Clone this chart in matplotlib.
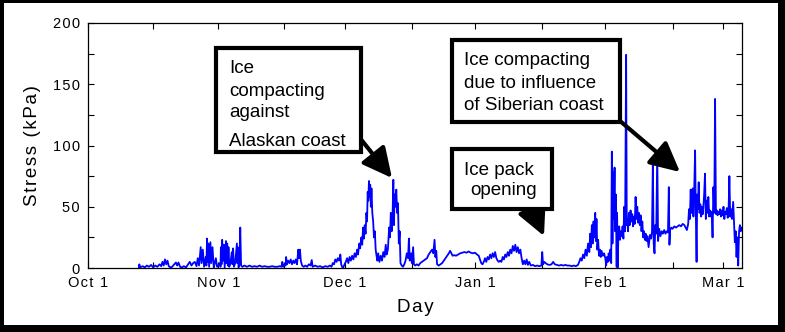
import numpy as np
import matplotlib
matplotlib.use("Agg")
import matplotlib.pyplot as plt
from matplotlib.patches import Rectangle

plt.rcParams['font.family'] = ['Liberation Sans', 'DejaVu Sans']

# days since Oct 1 / stress in kPa, split by month
oct_day = [12.1, 12.2, 12.4, 13.0, 13.5, 14.0, 14.5, 15.0, 15.5, 16.0, 16.5, 17.0, 17.4, 17.7,
           18.0, 18.3, 18.6, 18.9, 19.2, 19.6, 20.0, 20.5, 20.9, 21.2, 21.5, 21.9, 22.3, 22.8,
           23.3, 23.8, 24.2, 24.6, 25.0, 25.4, 25.8, 26.1, 26.4, 26.8, 27.0, 27.3, 27.6, 28.0,
           28.15, 28.3, 28.45, 28.6, 28.8, 29.1, 29.3, 29.6, 29.9, 30.1, 30.4, 30.7]
oct_kpa = [0, 3, 0.5, 1.5, 0.5, 2, 1, 2.5, 0.5, 2, 1, 3, 1.5, 5,
           2, 7, 3, 6, 1.5, 0.5, 1, 3, 4.5, 2, 4.5, 1, 0.5, 1.5,
           0.5, 3, 5, 2, 4, 5, 1.5, 8, 2, 17, 4, 15, 1, 9,
           2, 24, 5, 20, 1, 21, 4, 17, 0.5, 3, 8, 1]

nov_day = [31.0, 31.4, 31.5, 31.6, 31.75, 31.9, 32.1, 32.3, 32.5, 32.8, 32.95, 33.1, 33.25, 33.4,
           33.6, 33.9, 34.2, 34.35, 34.5, 34.7, 35.0, 35.4, 35.5, 35.6, 35.8, 36.0, 36.2, 36.4,
           36.7, 37.2, 37.8, 38.4, 39.0, 39.6, 40.2, 40.8, 41.4, 42.0, 42.6, 43.2, 43.8, 44.4,
           45.0, 45.6, 46.0, 46.2, 46.4, 46.7, 47.0, 47.1, 47.3, 47.6, 47.9, 48.2, 48.5, 48.8,
           49.1, 49.4, 49.7, 50.0, 50.2, 50.4, 50.6, 50.9, 51.3, 51.7, 52.1, 52.5, 52.9, 53.2,
           53.4, 54.0, 54.6, 55.2, 55.8, 56.4, 57.0, 57.5, 57.9, 58.2, 58.5, 58.8, 59.1, 59.4,
           59.7, 60.0, 60.2, 60.4, 60.7]
nov_kpa = [2, 4, 1, 17, 3, 23, 6, 19, 0.5, 22, 4, 20, 2, 17,
           1, 5, 13, 3, 16, 1, 4, 20, 4, 17, 0.5, 3, 33, 2,
           1, 2, 1, 2, 1, 1.5, 1, 2, 1, 1.5, 1, 1, 1.5, 1,
           1, 1.5, 1, 5, 1, 3, 2, 9, 3, 6, 4, 7, 3, 6,
           4, 7, 3, 15, 8, 15, 6, 2, 1, 2, 1, 3, 2, 6.5,
           1, 2, 1, 1.5, 0.5, 1.5, 1, 2, 1, 4, 3, 7, 5, 8,
           6, 11, 3, 1, 0.5]

dec_day = [61.0, 61.3, 61.6, 61.9, 62.2, 62.5, 62.8, 63.1, 63.4, 63.7, 64.0, 64.2, 64.5, 64.7,
           65.0, 65.2, 65.4, 65.6, 65.8, 66.0, 66.2, 66.35, 66.5, 66.65, 66.8, 66.95, 67.1, 67.25,
           67.4, 67.6, 67.8, 68.0, 68.2, 68.4, 68.6, 68.8, 69.0, 69.3, 69.6, 69.9, 70.2, 70.5,
           70.8, 71.0, 71.3, 71.6, 71.8, 72.0, 72.2, 72.4, 72.6, 72.75, 72.9, 73.1, 73.3, 73.5,
           73.7, 73.9, 74.1, 74.3, 74.6, 74.9, 75.2, 75.5, 75.8, 76.1, 76.3, 76.5, 76.8, 77.0,
           77.3, 77.5, 77.8, 78.2, 78.6, 79.0, 79.4, 79.8, 80.2, 80.6, 81.0, 81.4, 81.8, 82.1,
           82.4, 82.6, 82.8, 83.0, 83.4, 83.8, 84.2, 84.6, 85.0, 85.4, 85.8, 86.1, 86.4, 86.7,
           87.1, 87.5, 88.0, 88.5, 89.0, 89.5, 90.0, 90.5, 91.0, 91.5]
dec_kpa = [3, 5, 8, 4, 9, 6, 10, 7, 12, 9, 15, 11, 20, 16,
           25, 19, 33, 24, 35, 28, 45, 38, 62, 55, 71, 58, 68, 50,
           65, 45, 38, 25, 30, 15, 10, 6, 12, 5, 10, 6, 13, 9,
           19, 11, 15, 33, 25, 45, 30, 40, 72, 35, 60, 50, 64, 45,
           53, 20, 30, 4, 2, 1, 3, 6, 12, 8, 24, 6, 12, 4,
           17, 3, 2, 3, 2, 4, 5, 6, 7, 8, 11, 13, 15, 12,
           23, 9, 14, 3, 2, 3, 4, 6, 8, 10, 12, 14, 12, 10,
           10.5, 10, 11, 12, 12.5, 13, 12.5, 13.5, 12.5, 12]

jan_day = [92.0, 92.5, 92.9, 93.2, 93.5, 93.8, 94.1, 94.4, 94.7, 95.0, 95.3, 95.6, 95.9, 96.2,
           96.5, 96.8, 97.1, 97.4, 97.7, 98.0, 98.3, 98.6, 98.9, 99.2, 99.5, 99.8, 100.1, 100.4,
           100.7, 101.0, 101.3, 101.6, 101.9, 102.2, 102.5, 102.8, 103.1, 103.4, 103.7, 104.0, 104.3, 104.6,
           104.9, 105.3, 105.8, 106.3, 106.8, 107.3, 107.8, 108.0, 108.2, 108.5, 108.8, 109.2, 109.7, 110.2,
           110.6, 111.0, 111.5, 112.0, 112.5, 113.0, 113.5, 114.0, 114.5, 115.0, 115.5, 116.0, 116.5, 116.8,
           117.1, 117.4, 117.7, 118.0, 118.3, 118.6, 118.9, 119.2, 119.4, 119.6, 119.8, 120.0, 120.2, 120.4,
           120.6, 120.75, 120.9, 121.1, 121.3, 121.5, 121.7, 121.9, 122.1, 122.4, 122.7]
jan_kpa = [12.5, 11, 10, 7, 4, 3, 5, 8, 5, 9, 7, 11, 8, 12,
           9, 13, 8, 6, 5, 6, 5, 9, 7, 11, 9, 13, 10, 15,
           12, 18, 14, 19, 13, 17, 12, 15, 8, 3, 6, 3, 7, 2.5,
           5, 2, 2.5, 1.5, 2, 1.5, 2, 13, 3, 5, 4, 3, 2.5, 3,
           5, 3, 2.5, 2, 2.5, 2, 2.5, 2, 2, 1.5, 2, 1.5, 2.5, 5,
           8, 6, 11, 8, 15, 10, 20, 13, 28, 17, 35, 20, 38, 25,
           45, 22, 40, 15, 23, 10, 15, 9, 14, 10, 12]

feb_day = [123.0, 123.2, 123.4, 123.6, 123.8, 124.0, 124.2, 124.4, 124.55, 124.7, 124.85, 125.0, 125.2, 125.35,
           125.5, 125.7, 125.8, 125.95, 126.1, 126.3, 126.5, 126.7, 126.9, 127.1, 127.3, 127.5, 127.7, 127.95,
           128.1, 128.2, 128.4, 128.6, 128.8, 129.0, 129.2, 129.4, 129.6, 129.8, 130.0, 130.2, 130.4, 130.6,
           130.8, 131.0, 131.2, 131.4, 131.6, 131.8, 132.0, 132.2, 132.4, 132.6, 132.8, 133.0, 133.3, 133.6,
           133.9, 134.1, 134.3, 134.5, 134.7, 134.9, 135.1, 135.35, 135.55, 135.8, 136.1, 136.4, 136.7, 137.0,
           137.3, 137.6, 137.9, 138.1, 138.25, 138.4, 138.7, 139.0, 139.4, 139.8, 140.2, 140.6, 141.0, 141.4,
           141.8, 142.1, 142.4, 142.7, 142.9, 143.1, 143.3, 143.45, 143.6, 143.8, 143.95, 144.1, 144.35, 144.5,
           144.7, 144.85, 145.0, 145.2, 145.4, 145.6, 145.8, 146.0, 146.2, 146.5, 146.7, 146.9, 147.1, 147.3,
           147.5, 147.7, 147.9, 148.1, 148.3, 148.5, 148.7, 148.9, 149.1, 149.3, 149.5, 149.7, 149.9, 150.1,
           150.3, 150.5, 150.7, 150.9, 151.1, 151.3, 151.5, 151.7, 151.9, 152.1, 152.3, 152.5, 152.7, 152.9,
           153.1, 153.4, 153.6, 153.8, 154.0, 154.2, 154.4, 154.6, 154.8, 155.0, 155.2, 155.5]
feb_kpa = [8, 2, 9, 5, 12, 6, 15, 4, 95, 20, 78, 40, 82, 30,
           60, 1, 45, 0.5, 25, 34, 23, 30, 26, 34, 24, 50, 30, 174,
           35, 40, 30, 45, 35, 47, 38, 44, 34, 42, 36, 58, 40, 50,
           37, 45, 35, 43, 30, 38, 25, 30, 23, 28, 22, 26, 17, 27,
           24, 30, 86, 20, 12, 35, 28, 94, 22, 32, 26, 30, 28, 31,
           28, 30, 29, 66, 19, 31, 33, 32, 34, 33, 34, 35, 34, 36,
           35, 33, 31, 36, 48, 40, 64, 45, 55, 65, 42, 58, 96, 50,
           5, 60, 48, 70, 45, 52, 42, 50, 44, 60, 77, 40, 55, 45,
           58, 42, 47, 42, 46, 25, 66, 45, 138, 44, 47, 43, 46, 44,
           48, 42, 47, 43, 50, 40, 46, 44, 49, 41, 46, 75, 42, 48,
           40, 54, 38, 21, 30, 9, 25, 2, 30, 35, 30, 33]

month_ticks = [0, 31, 61, 92, 123, 151]
month_labels = ['Oct 1', 'Nov 1', 'Dec 1', 'Jan 1', 'Feb 1', 'Mar 1']
mid_ticks = [15.5, 46.5, 77, 108, 139]


def spaced(s):
    return '\u200a'.join(s)


W, H = 785, 332
fig = plt.figure(figsize=(W / 100, H / 100), dpi=100)
fig.patch.set_facecolor('black')
fig.add_artist(Rectangle((4 / W, 7 / H), 774 / W, 322 / H, transform=fig.transFigure,
                         facecolor='white', edgecolor='none', zorder=-5))

ax = fig.add_axes([88 / W, (H - 268) / H, 654 / W, 245 / H])
day = np.concatenate([oct_day, nov_day, dec_day, jan_day, feb_day])
kpa = np.concatenate([oct_kpa, nov_kpa, dec_kpa, jan_kpa, feb_kpa])
ax.plot(day, kpa, color='#0000ff', lw=1.3)

ax.set_xlim(0, 155.5)
ax.set_ylim(0, 200)
ax.set_xticks(month_ticks)
ax.set_xticklabels([spaced(s) for s in month_labels])
ax.set_xticks(mid_ticks, minor=True)
ax.set_yticks([0, 50, 100, 150, 200])
ax.set_yticklabels([spaced(str(v)) for v in [0, 50, 100, 150, 200]])
ax.set_yticks([25, 75, 125, 175], minor=True)
ax.tick_params(which='both', direction='in', top=True, right=True, length=4, width=0.8,
               labelsize=10.5, pad=6)
for s in ax.spines.values():
    s.set_linewidth(0.9)
ax.set_ylabel(spaced('Stress (kPa)'), fontsize=13.5, labelpad=8)
ax.set_xlabel(spaced('Day'), fontsize=13.5, labelpad=6)


def px(x, y):
    return x / W, (H - y) / H


def box(x0, y0, x1, y1):
    fig.add_artist(Rectangle(px(x0, y1), (x1 - x0) / W, (y1 - y0) / H, transform=fig.transFigure,
                             facecolor='white', edgecolor='black', lw=3, zorder=5))


def line(x, y, s):
    fig.text(*px(x, y), s, fontsize=13.5, ha='left', va='baseline', zorder=6)


def arrow(x0, y0, x1, y1):
    ax.annotate('', xy=(x1, H - y1), xytext=(x0, H - y0), xycoords='figure pixels',
                textcoords='figure pixels', zorder=7, annotation_clip=False,
                arrowprops=dict(arrowstyle='-|>,head_length=0.9,head_width=0.45', lw=3,
                                color='black', mutation_scale=20, shrinkA=0, shrinkB=0))


box(216, 48, 361, 152)
line(229, 73, 'Ice')
line(229, 96, 'compacting')
line(229, 117, 'against')
line(229, 146, 'Alaskan coast')
arrow(347, 122, 392, 178)

box(452, 40, 620, 122)
line(464, 65, 'Ice compacting')
line(464, 88, 'due to influence')
line(464, 110, 'of Siberian coast')
arrow(613, 115, 680, 172)

box(452, 149, 552, 209)
line(464, 175, 'Ice pack')
line(470, 195, 'opening')
arrow(528, 200, 544, 236)

fig.savefig('out.png', dpi=100, facecolor=fig.get_facecolor())
